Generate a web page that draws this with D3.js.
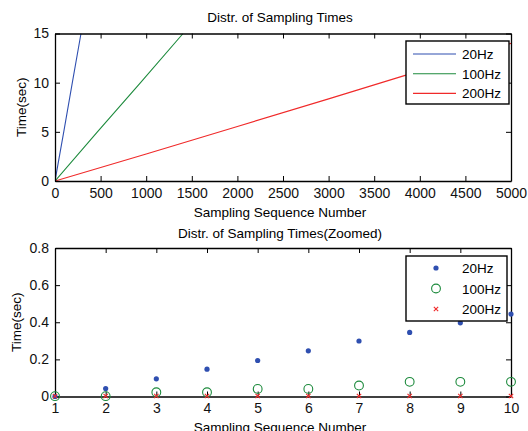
<!DOCTYPE html>
<html>
<head>
<meta charset="utf-8">
<script src="https://cdn.jsdelivr.net/npm/d3@7"></script>
<style>
  body { margin: 0; background: #fff; }
  svg { display: block; font-family: "Liberation Sans", Arial, sans-serif; }
</style>
</head>
<body>
<div id="chart"></div>
<script>
// full run: sequence number -> elapsed time (sec)
var seq20 = [0, 96, 190, 285];
var time20 = [0, 5, 10, 15];
var seq100 = [0, 465, 938, 1404];
var time100 = [0, 5, 10, 15];
var seq200 = [0, 1000, 2000, 3000, 4000, 5000];
var time200 = [0, 2.75, 5.55, 8.35, 11.2, 14.0];

// zoomed: first ten samples
var seqZoom = [1, 2, 3, 4, 5, 6, 7, 8, 9, 10];
var zoom20 = [0, 0.043, 0.095, 0.147, 0.194, 0.246, 0.299, 0.345, 0.397, 0.444];
var zoom100 = [0.002, 0.002, 0.023, 0.023, 0.041, 0.041, 0.059, 0.079, 0.079, 0.079];
var zoom200 = [0.002, 0.003, 0.003, 0.003, 0.003, 0.003, 0.003, 0.003, 0.003, 0.003];

var seriesNames = ["20Hz", "100Hz", "200Hz"];
var topXTicks = [0, 500, 1000, 1500, 2000, 2500, 3000, 3500, 4000, 4500, 5000];
var topYTicks = [0, 5, 10, 15];
var botXTicks = [1, 2, 3, 4, 5, 6, 7, 8, 9, 10];
var botYTicks = [0, 0.2, 0.4, 0.6, 0.8];

var colors = ["#2f4fb0", "#1c8a3c", "#f02a2a"];

var svg = d3.select("#chart").append("svg")
    .attr("width", 528)
    .attr("height", 431);

var left = 55, right = 511;

// draws box, inward ticks on all four sides, labels on bottom/left
function drawFrame(g, x, y, xTicks, yTicks, yFmt) {
    var w = right - left;
    var h = y.range()[0] - y.range()[1];

    g.append("g").attr("transform", "translate(0," + h + ")")
        .call(d3.axisBottom(x).tickValues(xTicks).tickSizeInner(-5).tickSizeOuter(0).tickPadding(7).tickFormat(d3.format("d")));
    g.append("g")
        .call(d3.axisTop(x).tickValues(xTicks).tickSizeInner(-5).tickSizeOuter(0).tickFormat(""));
    g.append("g")
        .call(d3.axisLeft(y).tickValues(yTicks).tickSizeInner(-5).tickSizeOuter(0).tickPadding(6).tickFormat(yFmt));
    g.append("g").attr("transform", "translate(" + w + ",0)")
        .call(d3.axisRight(y).tickValues(yTicks).tickSizeInner(-5).tickSizeOuter(0).tickFormat(""));

    g.selectAll(".domain").attr("stroke", "#000").attr("stroke-width", 1.3);
    g.selectAll(".tick line").attr("stroke", "#000").attr("stroke-width", 1);
    g.selectAll(".tick text").attr("font-size", "14px").attr("fill", "#111");
}

function drawLabels(top, bottom, title, titleY, xLabelY, yLabelX) {
    var mid = (top + bottom) / 2;
    svg.append("text")
        .attr("x", 280).attr("y", titleY)
        .attr("text-anchor", "middle")
        .attr("font-size", "13.5px")
        .text(title);
    svg.append("text")
        .attr("x", 280).attr("y", xLabelY)
        .attr("text-anchor", "middle")
        .attr("font-size", "13.5px")
        .text("Sampling Sequence Number");
    svg.append("text")
        .attr("transform", "translate(" + yLabelX + "," + mid + ") rotate(-90)")
        .attr("text-anchor", "middle")
        .attr("font-size", "13.5px")
        .text("Time(sec)");
}

// ---------- top panel ----------
var t = { top: 33.5, bottom: 181 };
var x1 = d3.scaleLinear().domain([0, 5000]).range([0, right - left]);
var y1 = d3.scaleLinear().domain([0, 15]).range([t.bottom - t.top, 0]);

var g1 = svg.append("g").attr("transform", "translate(" + left + "," + t.top + ")");

g1.append("clipPath").attr("id", "clip1").append("rect")
    .attr("width", right - left).attr("height", t.bottom - t.top);

var line1 = d3.line().x(function(d) { return x1(d[0]); }).y(function(d) { return y1(d[1]); });
var fullSeries = [d3.zip(seq20, time20), d3.zip(seq100, time100), d3.zip(seq200, time200)];

fullSeries.forEach(function(pts, i) {
    g1.append("path")
        .datum(pts)
        .attr("clip-path", "url(#clip1)")
        .attr("fill", "none")
        .attr("stroke", colors[i])
        .attr("stroke-width", 1.1)
        .attr("d", line1);
});

drawFrame(g1, x1, y1, topXTicks, topYTicks, d3.format("d"));
drawLabels(t.top, t.bottom, "Distr. of Sampling Times", 22, 217, 26);

// legend
var leg1 = svg.append("g");
leg1.append("rect")
    .attr("x", 406).attr("y", 41).attr("width", 103).attr("height", 63)
    .attr("fill", "#fff").attr("stroke", "#000").attr("stroke-width", 1.4);
seriesNames.forEach(function(name, i) {
    var cy = 54 + i * 19.7;
    leg1.append("line")
        .attr("x1", 413).attr("x2", 456).attr("y1", cy).attr("y2", cy)
        .attr("stroke", colors[i]).attr("stroke-width", 1.1);
    leg1.append("text")
        .attr("x", 462).attr("y", cy + 5)
        .attr("font-size", "13.5px")
        .text(name);
});

// ---------- bottom panel ----------
var b = { top: 248, bottom: 396.5 };
var x2 = d3.scaleLinear().domain([1, 10]).range([0, right - left]);
var y2 = d3.scaleLinear().domain([0, 0.8]).range([b.bottom - b.top, 0]);

var g2 = svg.append("g").attr("transform", "translate(" + left + "," + b.top + ")");

drawFrame(g2, x2, y2, botXTicks, botYTicks, function(d) { return d === 0 ? "0" : d3.format(".1f")(d); });

g2.selectAll(".dot20")
    .data(d3.zip(seqZoom, zoom20))
    .enter().append("circle")
    .attr("cx", function(d) { return x2(d[0]); })
    .attr("cy", function(d) { return y2(d[1]); })
    .attr("r", 2.6)
    .attr("fill", colors[0]);

g2.selectAll(".ring100")
    .data(d3.zip(seqZoom, zoom100))
    .enter().append("circle")
    .attr("cx", function(d) { return x2(d[0]); })
    .attr("cy", function(d) { return y2(d[1]); })
    .attr("r", 4.4)
    .attr("fill", "none")
    .attr("stroke", colors[1])
    .attr("stroke-width", 1.1);

var cross = d3.symbol().type(d3.symbolX).size(14);
g2.selectAll(".x200")
    .data(d3.zip(seqZoom, zoom200))
    .enter().append("path")
    .attr("transform", function(d) { return "translate(" + x2(d[0]) + "," + y2(d[1]) + ")"; })
    .attr("d", cross)
    .attr("fill", "none")
    .attr("stroke", colors[2])
    .attr("stroke-width", 1.1);

drawLabels(b.top, b.bottom, "Distr. of Sampling Times(Zoomed)", 238, 432, 21);

var leg2 = svg.append("g");
leg2.append("rect")
    .attr("x", 406).attr("y", 256).attr("width", 101).attr("height", 65)
    .attr("fill", "#fff").attr("stroke", "#000").attr("stroke-width", 1.4);
seriesNames.forEach(function(name, i) {
    var cy = 268 + i * 20.5;
    var cx = 436;
    if (i === 0) {
        leg2.append("circle").attr("cx", cx).attr("cy", cy).attr("r", 2.6).attr("fill", colors[0]);
    } else if (i === 1) {
        leg2.append("circle").attr("cx", cx).attr("cy", cy).attr("r", 4.4)
            .attr("fill", "none").attr("stroke", colors[1]).attr("stroke-width", 1.1);
    } else {
        leg2.append("path").attr("transform", "translate(" + cx + "," + cy + ")")
            .attr("d", cross).attr("fill", "none").attr("stroke", colors[2]).attr("stroke-width", 1.1);
    }
    leg2.append("text")
        .attr("x", 462).attr("y", cy + 5)
        .attr("font-size", "13.5px")
        .text(name);
});
</script>
</body>
</html>
